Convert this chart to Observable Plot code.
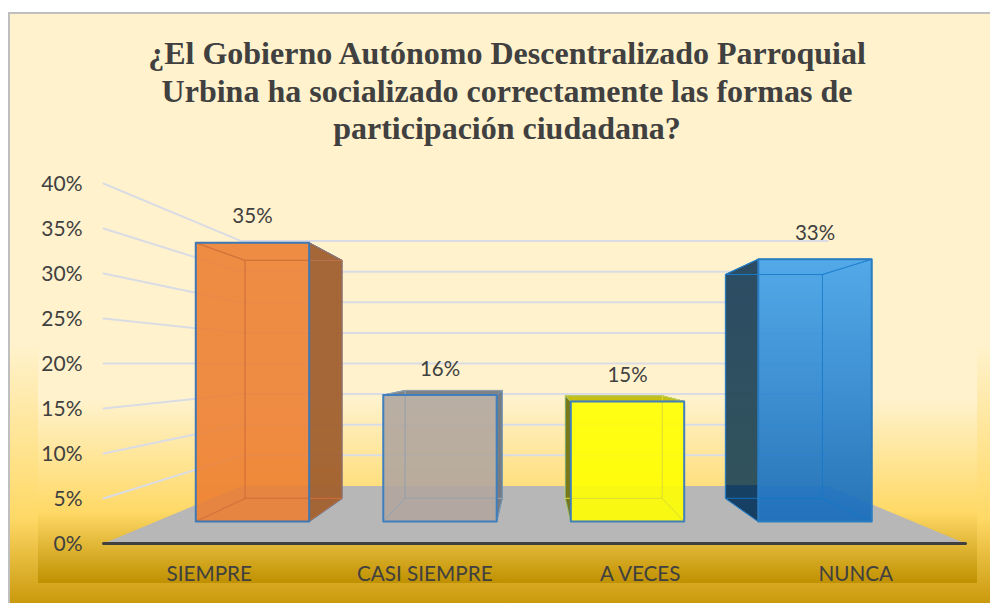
<!DOCTYPE html>
<html><head><meta charset="utf-8">
<script src="https://cdn.jsdelivr.net/npm/d3@7"></script>
<script src="https://cdn.jsdelivr.net/npm/@observablehq/plot@0.6"></script>
<style>
html,body{margin:0;padding:0;background:#fff;width:990px;height:603px;overflow:hidden}
#frame{position:absolute;left:8px;top:12px;width:982px;height:591px;box-sizing:border-box;border-left:2px solid #bfbfbf;border-top:2px solid #bfbfbf;
background:linear-gradient(to bottom,#fff2cc 0,#fff2cc 331px,#ffd966 504px,#c9980a 591px)}
#inner{position:absolute;left:38px;top:14px;width:939px;height:569px;
background:linear-gradient(to bottom,#fff2cc 0,#fff2cc 386px,#ffd966 498px,#bf9000 569px)}
#title{position:absolute;left:8px;top:35px;width:998px;text-align:center;font:bold 32px/37.6px "Liberation Serif",serif;color:#404040;white-space:nowrap}
#chart{position:absolute;left:0;top:170px}
#chart svg{background:transparent;overflow:visible}
</style></head><body>
<div id="frame"></div><div id="inner"></div>
<div id="title">¿El Gobierno Autónomo Descentralizado Parroquial<br>Urbina ha socializado correctamente las formas de<br>participación ciudadana?</div>
<div id="chart"></div>
<script>
const categories = ["SIEMPRE", "CASI SIEMPRE", "A VECES", "NUNCA"];
const values = [35.3, 16, 15.2, 33.2];
const valueTicks = [0, 5, 10, 15, 20, 25, 30, 35, 40];

// perspective of the 3D scene, in data units
const horizon = 20, perspective = 0.47, barHalf = 0.15, zFront = 0.298, zBack = 0.713, bandStep = 0.496, bandShift = -0.002;
const s = z => 1 / (1 + perspective * z);
const P = (X, v, z) => ({px: X * s(z), pv: horizon + (v - horizon) * s(z)});
const center = i => (i - 1.5) * bandStep + bandShift;

const faceStyles = [
  {front:"#ed7d31", frontOp:.88, side:"right", sideFill:"#a26232", topFill:"none", edge:"#d0703a", line:"#3f78b4", thinOp:.7},
  {front:"#b1a69e", frontOp:.9, side:"right", sideFill:"#74797f", topFill:"#7e8285", edge:"#98a3ad", line:"#3f7fbd", thinOp:.7},
  {front:"#ffff00", frontOp:.9, side:"left", sideFill:"#76760f", topFill:"#c8c010", edge:"#dede30", line:"#3f7fbd", thinOp:.7},
  {front:"url(#blueFront)", frontOp:.93, side:"left", sideFill:"url(#blueSide)", topFill:"none", edge:"#1678c8", line:"#2b7cc0", thinOp:.55}
];

const poly = (pts, o) => Plot.line(pts, {x:"px", y:"pv", curve:"linear-closed", ...o});

const gridMarks = valueTicks.filter(v => v > 0).map(v =>
  Plot.line([P(-1, v, 0), P(-1, v, 1), P(1, v, 1)], {x:"px", y:"pv", stroke:"#d9dce4", strokeWidth:2}));

const barMarks = categories.flatMap((c, i) => {
  const st = faceStyles[i], l = center(i) - barHalf, r = center(i) + barHalf, v = values[i];
  const thin = {fill:"none", stroke:st.edge, strokeWidth:1, strokeOpacity:st.thinOp};
  const rightFace = [P(r,0,zFront),P(r,v,zFront),P(r,v,zBack),P(r,0,zBack)];
  const leftFace  = [P(l,0,zFront),P(l,v,zFront),P(l,v,zBack),P(l,0,zBack)];
  const topFace   = [P(l,v,zFront),P(r,v,zFront),P(r,v,zBack),P(l,v,zBack)];
  const botFace   = [P(l,0,zFront),P(r,0,zFront),P(r,0,zBack),P(l,0,zBack)];
  const backFace  = [P(l,0,zBack),P(r,0,zBack),P(r,v,zBack),P(l,v,zBack)];
  const frontFace = [P(l,0,zFront),P(r,0,zFront),P(r,v,zFront),P(l,v,zFront)];
  return [
    poly(st.side === "right" ? rightFace : leftFace, {fill:st.sideFill, fillOpacity:.97, stroke:st.line, strokeWidth:1}),
    poly(topFace, {fill:st.topFill, stroke:st.line, strokeWidth:1}),
    poly(frontFace, {fill:st.front, fillOpacity:st.frontOp, stroke:"none"}),
    poly(backFace, thin), poly(botFace, thin),
    poly(st.side === "right" ? leftFace : rightFace, thin),
    poly(topFace, thin),
    poly(frontFace, {fill:"none", stroke:st.line, strokeWidth:2})
  ];
});

const defs = () => {
  const d = d3.create("svg:defs");
  const grad = (id, stops) => {
    const g = d.append("linearGradient").attr("id", id).attr("x1",0).attr("y1",0).attr("x2",0).attr("y2",1);
    stops.forEach(([o,c]) => g.append("stop").attr("offset",o).attr("stop-color",c));
  };
  grad("blueFront", [[0,"#46a4ea"],[1,"#176cbb"]]);
  grad("blueSide", [[0,"#244760"],[.86,"#2a4e5a"],[.861,"#123c62"],[1,"#103a60"]]);
  return d.node();
};

const chart = Plot.plot({
  width: 990, height: 433,
  marginLeft: 103, marginRight: 25, marginTop: 13, marginBottom: 60,
  style: {background:"transparent", fontFamily:"Lato,sans-serif", color:"#404040", overflow:"visible"},
  x: {domain:[-1,1], axis:null},
  y: {domain:[0,40]},
  marks: [
    defs,
    Plot.axisY({ticks:valueTicks, tickSize:0, tickPadding:21, tickFormat:d=>d+"%", label:null, fontSize:21, dy:1, fill:"#404040"}),
    ...gridMarks,
    poly([P(-1,0,0),P(1,0,0),P(1,0,1),P(-1,0,1)], {fill:"#b7b7b7", stroke:"none"}),
    ...barMarks,
    Plot.line([P(-1,0,0),P(1,0,0)], {x:"px", y:"pv", stroke:"#404040", strokeWidth:3, strokeLinecap:"round"}),
    Plot.text(categories, {x:(c,i)=>(i-1.5)*0.5, y:()=>0, text:c=>c, dy:31, dx:-2, fontSize:20.7, fill:"#404040"}),
    Plot.text(values, {x:(v,i)=>center(i)*s(zFront), y:(v)=>P(0,v,zFront).pv, text:v=>v.toFixed(0)+"%", dy:-26, fontSize:20.5, fill:"#404040"})
  ]
});
document.getElementById("chart").appendChild(chart);
</script>
</body></html>
